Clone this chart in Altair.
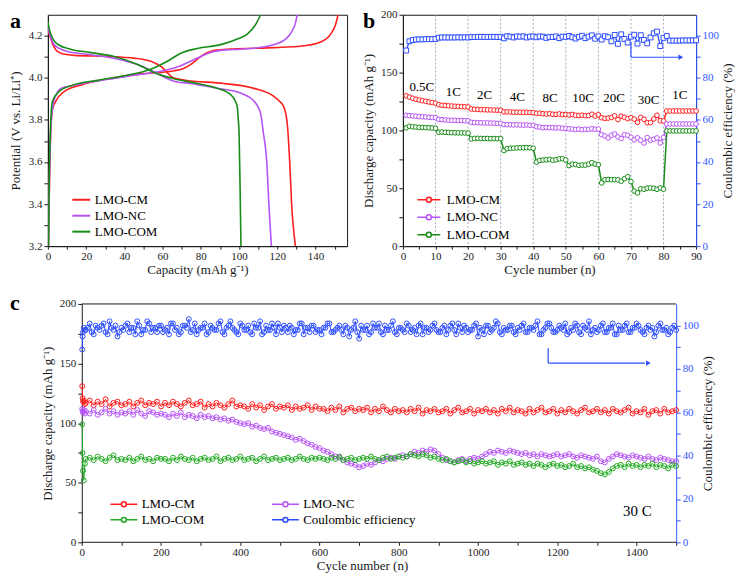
import altair as alt
import pandas as pd

FONT = "Liberation Serif"
RED = "#ff1e1e"
PURPLE = "#b653f5"
GREEN_A = "#178c17"
GREEN_C = "#22aa22"
BLUE = "#2c4cff"
AX_BLUE = "#2f55ff"
INK = "#1a1a1a"

SAMPLES = ["LMO-CM", "LMO-NC", "LMO-COM"]
CE_NAME = "Coulombic efficiency"

# ---------------- panel a : charge / discharge profiles ----------------
A_CM_CHG_CAP = [0.3, 0.8, 1.5, 2.4, 4.2, 8.5, 17, 34.6, 48.6, 62.5, 66, 71, 75, 79, 83, 88, 95, 109.5, 132, 142.6, 147.9, 150.5, 151.8]
A_CM_CHG_V = [3.2, 3.5, 3.75, 3.85, 3.89, 3.935, 3.965, 4.0, 4.019, 4.029, 4.034, 4.045, 4.065, 4.095, 4.118, 4.132, 4.137, 4.141, 4.15, 4.17, 4.208, 4.254, 4.3]
A_CM_DIS_CAP = [0, 1, 2.4, 4, 6.8, 13.8, 31.2, 45, 53.8, 57, 59.9, 62.5, 65, 71.2, 92, 107.8, 118.2, 121, 123.5, 125.2, 126.5, 127.5, 128.3, 129.5]
A_CM_DIS_V = [4.23, 4.2, 4.163, 4.135, 4.117, 4.107, 4.102, 4.094, 4.079, 4.066, 4.049, 4.025, 4.003, 3.99, 3.973, 3.95, 3.912, 3.89, 3.86, 3.783, 3.6, 3.4, 3.3, 3.2]
A_NC_CHG_CAP = [0.3, 0.8, 1.5, 2.5, 3.5, 6.8, 13.8, 27.7, 43.4, 60.8, 69.5, 75, 80, 86.9, 93, 100.8, 114.8, 120, 123.5, 126.5, 127.8, 129.5, 130.4]
A_NC_CHG_V = [3.2, 3.5, 3.75, 3.86, 3.9, 3.95, 3.965, 3.988, 4.01, 4.035, 4.058, 4.08, 4.102, 4.125, 4.133, 4.136, 4.15, 4.163, 4.178, 4.205, 4.224, 4.26, 4.3]
A_NC_DIS_CAP = [0, 1.2, 3.1, 6, 10.3, 22.5, 36.4, 48.6, 57.3, 66, 74.7, 88.7, 100.8, 105, 107.8, 110, 111.3, 112.7, 114.5, 115.6, 116.9]
A_NC_DIS_V = [4.24, 4.2, 4.16, 4.14, 4.125, 4.11, 4.09, 4.058, 4.02, 3.984, 3.973, 3.95, 3.928, 3.91, 3.89, 3.86, 3.83, 3.74, 3.6, 3.4, 3.2]
A_COM_CHG_CAP = [0.3, 0.7, 1.3, 2.4, 5.9, 12.9, 26, 39.9, 53.8, 62.5, 69.5, 78.2, 90.4, 99.1, 104.3, 108.7, 111.3]
A_COM_CHG_V = [3.2, 3.5, 3.75, 3.89, 3.935, 3.965, 3.988, 4.01, 4.041, 4.079, 4.117, 4.14, 4.158, 4.185, 4.208, 4.254, 4.3]
A_COM_DIS_CAP = [0, 0.8, 3.1, 6, 10.3, 22.5, 34.7, 46.9, 55.5, 66, 78.2, 88.7, 95.6, 98, 99.1, 99.6, 100, 100.5, 101]
A_COM_DIS_V = [4.27, 4.23, 4.178, 4.155, 4.14, 4.12, 4.102, 4.064, 4.026, 3.996, 3.973, 3.95, 3.92, 3.89, 3.86, 3.8, 3.74, 3.5, 3.2]
A_X_TICKS = [0, 10, 20, 30, 40, 50, 60, 70, 80, 90, 100, 110, 120, 130, 140, 150]
A_Y_TICKS = [3.2, 3.3, 3.4, 3.5, 3.6, 3.7, 3.8, 3.9, 4.0, 4.1, 4.2]

# ---------------- panel b : rate capability ----------------
B_CYCLES = list(range(1, 91))
B_CM = [129.9, 128.8, 127.8, 127.0, 126.3, 125.7, 125.2, 124.6, 124.1, 123.6,
        122.2, 121.8, 121.5, 121.3, 121.1, 120.9, 120.8, 120.6, 120.5, 120.3,
        118.6, 118.3, 118.1, 118.0, 117.9, 117.8, 117.7, 117.6, 117.5, 117.4,
        116.0, 116.1, 115.9, 115.8, 115.8, 115.7, 115.7, 115.6, 115.5, 115.4,
        114.8, 114.9, 114.4, 114.2, 114.5, 114.0, 113.9, 114.3, 113.8, 113.7,
        113.4, 113.8, 113.1, 112.9, 113.2, 112.7, 112.8, 114.0, 112.4, 113.6,
        111.0, 110.4, 110.7, 111.2, 112.6, 109.4, 112.3, 111.4, 110.2, 111.0,
        109.8, 107.0, 111.2, 109.6, 106.6, 106.8, 109.9, 113.1, 108.4, 108.2,
        116.8, 116.8, 116.8, 116.8, 116.8, 116.8, 116.8, 116.8, 116.8, 116.8]
B_NC = [113.1, 112.9, 112.6, 112.3, 112.0, 111.8, 111.6, 111.4, 111.2, 111.0,
        109.6, 109.3, 109.1, 108.9, 108.8, 108.7, 108.6, 108.5, 108.4, 108.3,
        107.0, 106.8, 106.7, 106.6, 106.5, 106.5, 106.4, 106.3, 106.2, 106.1,
        105.2, 105.0, 104.9, 104.8, 104.9, 104.7, 104.6, 104.8, 104.5, 104.4,
        103.2, 102.9, 102.4, 102.6, 102.3, 102.4, 102.1, 102.3, 101.9, 101.8,
        101.4, 101.2, 100.8, 101.1, 100.6, 101.0, 100.9, 101.5, 101.0, 101.2,
        96.3, 95.2, 93.5, 95.8, 96.9, 94.4, 93.0, 96.3, 95.8, 94.1,
        91.9, 93.6, 91.4, 89.1, 93.8, 91.6, 92.4, 93.5, 89.2, 94.0,
        105.6, 105.6, 105.6, 105.6, 105.6, 105.6, 105.6, 105.6, 105.6, 105.6]
B_COM = [102.2, 103.6, 103.2, 102.9, 102.7, 102.6, 102.4, 102.3, 102.1, 101.9,
         98.4, 98.6, 98.3, 98.2, 98.1, 98.0, 97.9, 97.9, 97.8, 97.7,
         92.6, 93.1, 93.2, 93.1, 93.0, 93.0, 92.9, 93.0, 92.9, 92.9,
         82.6, 84.3, 84.6, 84.7, 84.9, 85.0, 85.1, 85.2, 85.0, 84.6,
         72.6, 74.1, 74.4, 74.6, 75.0, 74.3, 74.6, 75.4, 75.6, 74.5,
         69.6, 70.9, 70.6, 69.8, 70.1, 70.0, 70.8, 72.1, 70.9, 70.4,
         54.6, 57.4, 57.6, 57.4, 57.5, 57.3, 56.1, 58.3, 60.0, 55.8,
         47.6, 46.0, 49.6, 49.2, 50.1, 50.3, 50.0, 49.1, 50.4, 49.2,
         99.6, 99.6, 99.6, 99.6, 99.6, 99.6, 99.6, 99.6, 99.6, 99.6]
B_CE = [93.0, 97.4, 98.0, 98.2, 98.3, 98.3, 98.4, 98.4, 98.4, 98.5,
        99.1, 99.2, 99.2, 99.2, 99.2, 99.2, 99.3, 99.2, 99.3, 99.2,
        99.4, 99.4, 99.5, 99.5, 99.5, 99.4, 99.5, 99.5, 99.4, 99.5,
        98.8, 99.8, 99.6, 99.2, 99.7, 99.6, 99.7, 99.2, 99.6, 99.7,
        99.3, 99.7, 99.6, 99.0, 99.5, 99.4, 99.7, 98.9, 99.6, 99.5,
        99.9, 99.3, 98.7, 99.5, 100.0, 98.9, 99.6, 100.2, 98.6, 99.7,
        98.2, 99.8, 99.3, 97.4, 100.4, 96.2, 100.7, 98.5, 96.8, 99.6,
        100.5, 96.3, 100.3, 98.0, 96.4, 99.2, 101.2, 102.0, 95.1, 99.0,
        99.9, 97.7, 97.7, 97.7, 97.7, 97.8, 97.8, 97.8, 97.8, 97.9]
B_RATE_LABELS = ["0.5C", "1C", "2C", "4C", "8C", "10C", "20C", "30C", "1C"]
B_RATE_X = [5.8, 15.5, 25.1, 35.1, 45.2, 55.3, 64.8, 75.4, 85.0]
B_RATE_Y = [137.8, 133.6, 130.8, 128.8, 128.0, 128.0, 128.0, 126.5, 130.8]
B_STEP_LINES = [10, 20, 30, 40, 50, 60, 70, 80]
B_X_TICKS = [0, 5, 10, 15, 20, 25, 30, 35, 40, 45, 50, 55, 60, 65, 70, 75, 80, 85, 90]
CAP_TICKS = [0, 25, 50, 75, 100, 125, 150, 175, 200]
CE_TICKS = [0, 10, 20, 30, 40, 50, 60, 70, 80, 90, 100]

# ---------------- panel c : long cycling at 30 C ----------------
C_CYCLES = [1, 2, 3, 5, 8] + list(range(10, 1501, 10))
C_CM = [131, 121, 118, 119, 116,
        117, 119, 115, 118, 116, 120, 114, 117, 118, 115,
        116, 118, 114, 117, 119, 115, 117, 116, 118, 114,
        117, 115, 118, 116, 114, 117, 119, 115, 116, 118,
        113, 116, 114, 117, 115, 113, 116, 119, 114, 115,
        114, 112, 116, 113, 115, 111, 114, 116, 112, 114,
        113, 115, 111, 114, 112, 113, 115, 111, 114, 112,
        112, 110, 113, 111, 114, 109, 112, 113, 110, 112,
        111, 113, 109, 112, 110, 114, 111, 109, 112, 110,
        111, 109, 112, 110, 113, 108, 111, 110, 112, 109,
        110, 112, 108, 111, 113, 109, 110, 112, 108, 111,
        110, 112, 109, 111, 108, 112, 110, 113, 109, 111,
        110, 108, 112, 109, 111, 113, 109, 110, 112, 108,
        111, 109, 112, 110, 108, 111, 113, 109, 110, 112,
        109, 111, 108, 112, 110, 109, 111, 113, 108, 110,
        109, 112, 107, 110, 111, 108, 112, 109, 110, 111]
C_NC = [112, 110, 109, 111, 108,
        110, 108, 111, 107, 109, 112, 108, 110, 107, 109,
        108, 110, 107, 111, 108, 106, 110, 109, 107, 108,
        107, 105, 108, 106, 109, 105, 107, 106, 104, 107,
        105, 106, 104, 105, 103, 104, 102, 103, 101, 100,
        99, 100, 97, 98, 96, 95, 96, 93, 92, 91,
        90, 89, 88, 86, 87, 85, 83, 82, 80, 79,
        77, 76, 74, 72, 71, 69, 67, 66, 65, 63,
        64, 66, 65, 67, 69, 68, 70, 71, 70, 72,
        73, 72, 74, 76, 75, 77, 76, 78, 77, 74,
        71, 69, 68, 67, 69, 70, 68, 70, 71, 70,
        72, 74, 76, 75, 77, 76, 75, 77, 76, 75,
        74, 75, 73, 74, 72, 74, 73, 72, 73, 74,
        72, 73, 74, 72, 71, 73, 72, 71, 70, 72,
        68, 67, 70, 72, 74, 73, 72, 71, 73, 72,
        71, 70, 72, 70, 69, 71, 70, 69, 68, 68]
C_COM = [99, 75, 60, 52, 66,
         70, 71, 69, 72, 70, 68, 71, 73, 69, 70,
         69, 71, 68, 70, 72, 69, 70, 68, 71, 70,
         70, 68, 71, 69, 72, 70, 69, 71, 68, 70,
         71, 69, 70, 72, 68, 70, 71, 69, 70, 72,
         69, 70, 71, 68, 70, 72, 69, 70, 71, 69,
         70, 71, 69, 70, 72, 70, 69, 71, 70, 71,
         70, 69, 71, 70, 72, 69, 70, 71, 69, 70,
         71, 70, 72, 70, 69, 71, 72, 70, 71, 72,
         71, 72, 74, 73, 72, 74, 73, 71, 72, 70,
         69, 70, 68, 67, 68, 69, 67, 68, 66, 67,
         68, 66, 67, 68, 65, 67, 66, 68, 65, 66,
         67, 65, 66, 64, 66, 65, 63, 65, 66, 64,
         65, 63, 64, 66, 63, 64, 62, 63, 61, 60,
         58, 57, 59, 62, 64, 65, 63, 66, 64, 65,
         63, 65, 64, 66, 63, 65, 64, 62, 65, 64]
C_CE = [89, 95, 97, 99, 98,
        98, 101, 96, 99, 100, 97, 102, 98, 95, 99,
        100, 97, 99, 102, 96, 98, 101, 99, 97, 100,
        98, 96, 101, 99, 97, 100, 103, 98, 96, 99,
        101, 97, 99, 98, 102, 96, 100, 99, 97, 101,
        98, 100, 96, 99, 102, 97, 98, 101, 96, 99,
        100, 97, 99, 98, 101, 96, 99, 100, 97, 98,
        99, 101, 97, 98, 100, 96, 99, 98, 102, 94,
        98, 100, 97, 99, 101, 96, 98, 100, 97, 99,
        98, 101, 97, 99, 100, 96, 99, 98, 101, 97,
        99, 96, 100, 98, 101, 97, 99, 98, 100, 95,
        98, 100, 97, 99, 101, 96, 98, 100, 97, 99,
        100, 97, 99, 98, 102, 96, 99, 101, 97, 98,
        99, 101, 97, 98, 100, 96, 99, 102, 98, 97,
        100, 97, 99, 101, 96, 98, 100, 97, 99, 101,
        98, 96, 100, 99, 97, 101, 98, 96, 99, 98]
# coulombic efficiency also read at the half-way cycles 15, 25, ..., 1495
C_CE_MID_CYCLES = list(range(15, 1500, 10))
C_CE_MID = [99, 97, 100, 98, 101, 96, 99, 100, 97,
            98, 101, 99, 96, 100, 98, 102, 97, 99, 100,
            97, 99, 101, 98, 96, 100, 99, 97, 101, 98,
            99, 96, 100, 98, 101, 97, 99, 102, 98, 96,
            100, 98, 97, 101, 99, 96, 100, 98, 99, 101,
            97, 99, 100, 96, 98, 101, 99, 97, 100, 98,
            96, 99, 101, 97, 99, 98, 100, 95, 99, 97,
            100, 98, 96, 101, 99, 97, 100, 98, 102, 96,
            99, 97, 100, 98, 96, 101, 99, 97, 100, 98,
            97, 100, 98, 101, 96, 99, 100, 97, 98, 101,
            99, 96, 100, 98, 102, 97, 99, 98, 100, 96,
            98, 101, 97, 99, 100, 96, 98, 101, 99, 97,
            100, 98, 96, 99, 101, 97, 100, 98, 96, 99,
            98, 101, 97, 99, 96, 100, 98, 101, 97, 99,
            100, 97, 99, 98, 95, 100, 98, 99, 97, 100]
C_X_TICKS = [0, 100, 200, 300, 400, 500, 600, 700, 800, 900, 1000, 1100, 1200, 1300, 1400, 1500]
# legend order (column-wise): CM, COM | NC, CE
C_LEGEND_ORDER = ["LMO-CM", "LMO-COM", "LMO-NC", CE_NAME]

# ---------------- layout sizes ----------------
A_W, A_H = 300, 232
B_W, B_H = 294, 232
C_W, C_H = 630, 239
C_XMIN = -85.6


def ax(**kw):
    base = dict(labelFont=FONT, titleFont=FONT, labelFontSize=11, titleFontSize=13,
                titleFontWeight="normal", labelColor=INK, titleColor=INK,
                domainColor=INK, tickColor=INK, tickSize=4, labelPadding=2,
                grid=False, labelOverlap=False, labelFlush=False, titlePadding=5)
    base.update(kw)
    return alt.Axis(**base)


def xax(**kw):
    return ax(tickSize=3, labelPadding=1, titlePadding=2, **kw)


LINE_CIRCLE = "M-{w},0L-0.5,0M0.5,0L{w},0M0.5,0A0.5,0.5,0,1,1,-0.5,0A0.5,0.5,0,1,1,0.5,0"


def letter(t, x, y):
    return alt.Chart(pd.DataFrame({"t": [t]})).mark_text(
        font=FONT, fontSize=22, fontWeight="bold", align="left", baseline="alphabetic", color="black"
    ).encode(x=alt.value(x), y=alt.value(y), text="t:N")


# ================= panel a =================
rows = []
for s, cap, v, seg in [
    ("LMO-CM", A_CM_CHG_CAP, A_CM_CHG_V, "c"), ("LMO-CM", A_CM_DIS_CAP, A_CM_DIS_V, "d"),
    ("LMO-NC", A_NC_CHG_CAP, A_NC_CHG_V, "c"), ("LMO-NC", A_NC_DIS_CAP, A_NC_DIS_V, "d"),
    ("LMO-COM", A_COM_CHG_CAP, A_COM_CHG_V, "c"), ("LMO-COM", A_COM_DIS_CAP, A_COM_DIS_V, "d"),
]:
    for i, (c, vv) in enumerate(zip(cap, v)):
        rows.append({"s": s, "seg": s + seg, "x": c, "y": vv, "i": i})
df_a = pd.DataFrame(rows)

a_lines = alt.Chart(df_a).mark_line(strokeWidth=1.6, interpolate="monotone", clip=True).encode(
    x=alt.X("x:Q", scale=alt.Scale(domain=[0, 156.5], nice=False, zero=False),
            axis=xax(values=A_X_TICKS, format="d", labelExpr="datum.value % 20 == 0 ? datum.label : ''",
                     title="Capacity (mAh g⁻¹)")),
    y=alt.Y("y:Q", scale=alt.Scale(domain=[3.2, 4.3], nice=False, zero=False),
            axis=ax(values=A_Y_TICKS, format=".1f",
                    labelExpr="round(datum.value * 10) % 2 == 0 ? datum.label : ''",
                    title="Potential (V vs. Li/Li⁺)", titlePadding=6)),
    color=alt.Color("s:N", scale=alt.Scale(domain=SAMPLES, range=[RED, PURPLE, GREEN_A]),
                    legend=alt.Legend(orient="none", legendX=27, legendY=A_H - 53, title=None,
                                      symbolType="M-1.8,0L1.8,0", symbolSize=100, symbolStrokeWidth=2,
                                      labelFont=FONT, labelFontSize=13, labelOffset=7,
                                      rowPadding=2, padding=0)),
    detail="seg:N",
    order="i:Q",
)
panel_a = alt.layer(a_lines, letter("a", -38, 13)).properties(width=A_W, height=A_H)

# ================= panel b =================
df_b = pd.DataFrame({
    "x": B_CYCLES * 3,
    "y": B_CM + B_NC + B_COM,
    "s": ["LMO-CM"] * 90 + ["LMO-NC"] * 90 + ["LMO-COM"] * 90,
})
df_bce = pd.DataFrame({"x": B_CYCLES, "y": B_CE})
df_brate = pd.DataFrame({"x": B_RATE_X, "y": B_RATE_Y, "t": B_RATE_LABELS})
df_bgrid = pd.DataFrame({"x": B_STEP_LINES})
df_barrow_v = pd.DataFrame({"x": [70], "y": [97.0], "y2": [89.8]})
df_barrow_h = pd.DataFrame({"x": [70], "x2": [84.6], "y": [89.8]})
df_barrow_t = pd.DataFrame({"x": [85.3], "y": [89.8]})

bx_scale = alt.Scale(domain=[0, 90], nice=False, zero=False)
bx_axis = xax(values=B_X_TICKS, format="d", labelExpr="datum.value % 10 == 0 ? datum.label : ''",
              title="Cycle number (n)")
cap_scale = alt.Scale(domain=[0, 200], nice=False, zero=False)
ce_scale = alt.Scale(domain=[0, 110], nice=False, zero=False)
cap_axis = ax(values=CAP_TICKS, format="d", labelExpr="datum.value % 50 == 0 ? datum.label : ''",
              title="Discharge capacity (mAh g⁻¹)")
ce_axis = ax(orient="right", values=CE_TICKS, format="d",
             labelExpr="datum.value % 20 == 0 ? datum.label : ''",
             title="Coulombic efficiency (%)", titleAngle=270, titleBaseline="top",
             labelColor=AX_BLUE, domainColor=AX_BLUE, tickColor=AX_BLUE, titlePadding=3)

BX = alt.X("x:Q", scale=bx_scale, axis=bx_axis)
b_color = alt.Color("s:N", scale=alt.Scale(domain=SAMPLES, range=[RED, PURPLE, GREEN_A]),
                    legend=alt.Legend(orient="none", legendX=19.5, legendY=B_H - 53, title=None,
                                      symbolType=LINE_CIRCLE.format(w=2.3), symbolSize=100,
                                      symbolStrokeWidth=1.5, labelFont=FONT, labelFontSize=13,
                                      labelOffset=11.5, rowPadding=3.5, padding=0))

b_grid = alt.Chart(df_bgrid).mark_rule(color="#8a9ab0", strokeDash=[2, 2], strokeWidth=0.8).encode(x=BX)
b_lines = alt.Chart(df_b).mark_line(strokeWidth=1.5).encode(
    x=BX, y=alt.Y("y:Q", scale=cap_scale, axis=cap_axis), color=b_color, detail="s:N")
b_points = alt.Chart(df_b).mark_point(filled=False, fill="white", size=22, strokeWidth=1, opacity=1).encode(
    x=BX, y=alt.Y("y:Q", scale=cap_scale, axis=None), color=b_color)
b_ce_line = alt.Chart(df_bce).mark_line(strokeWidth=1.3, color=BLUE).encode(
    x=BX, y=alt.Y("y:Q", scale=ce_scale, axis=ce_axis))
b_ce_pts = alt.Chart(df_bce).mark_point(shape="square", filled=False, fill="white", size=24,
                                        strokeWidth=1, color=BLUE, opacity=1).encode(
    x=BX, y=alt.Y("y:Q", scale=ce_scale, axis=None))
b_rate = alt.Chart(df_brate).mark_text(font=FONT, fontSize=13, color="black", baseline="middle").encode(
    x=BX, y=alt.Y("y:Q", scale=cap_scale, axis=None), text="t:N")
b_arr_v = alt.Chart(df_barrow_v).mark_rule(color=BLUE, strokeWidth=1.2).encode(
    x=BX, y=alt.Y("y:Q", scale=ce_scale, axis=None), y2="y2:Q")
b_arr_h = alt.Chart(df_barrow_h).mark_rule(color=BLUE, strokeWidth=1.2).encode(
    x=BX, x2="x2:Q", y=alt.Y("y:Q", scale=ce_scale, axis=None))
b_arr_t = alt.Chart(df_barrow_t).mark_point(shape="triangle-right", filled=True, size=30, color=BLUE, opacity=1).encode(
    x=BX, y=alt.Y("y:Q", scale=ce_scale, axis=None))

panel_b = alt.layer(
    b_grid, b_lines, b_points, b_ce_line, b_ce_pts, b_rate, b_arr_v, b_arr_h, b_arr_t,
    letter("b", -40, 13),
).resolve_scale(y="independent").properties(width=B_W, height=B_H)

# ================= panel c =================
n = len(C_CYCLES)
df_c = pd.DataFrame({
    "x": C_CYCLES * 3,
    "y": C_CM + C_NC + C_COM,
    "s": ["LMO-CM"] * n + ["LMO-NC"] * n + ["LMO-COM"] * n,
})
df_cce = pd.DataFrame({"x": C_CYCLES + C_CE_MID_CYCLES, "y": C_CE + C_CE_MID})
df_cce = df_cce.sort_values("x").reset_index(drop=True)
df_cce["s"] = CE_NAME
df_cframe = pd.DataFrame({"x": [0, 0], "x2": [1500, 1500], "y": [0, 200]})
df_carrow_v = pd.DataFrame({"x": [1177], "y": [89.6], "y2": [82.7]})
df_carrow_h = pd.DataFrame({"x": [1177], "x2": [1421], "y": [82.7]})
df_carrow_t = pd.DataFrame({"x": [1430], "y": [82.7]})
df_clabel = pd.DataFrame({"x": [1402], "y": [26], "t": ["30 C"]})

cx_scale = alt.Scale(domain=[C_XMIN, 1500], nice=False, zero=False)
cx_axis = xax(values=C_X_TICKS, format="d", domain=False,
              labelExpr="datum.value % 200 == 0 && datum.value < 1500 ? datum.label : ''",
              title="Cycle number (n)")
CX = alt.X("x:Q", scale=cx_scale, axis=cx_axis)
c_cap_axis = ax(values=CAP_TICKS, format="d", labelExpr="datum.value % 50 == 0 ? datum.label : ''",
                title="Discharge capacity (mAh g⁻¹)", offset=-34)
c_color = alt.Color("s:N", scale=alt.Scale(domain=C_LEGEND_ORDER,
                                           range=[RED, GREEN_C, PURPLE, BLUE]),
                    legend=alt.Legend(orient="none", legendX=69.7, legendY=C_H - 45, title=None,
                                      columns=2, columnPadding=64,
                                      symbolType=LINE_CIRCLE.format(w=2.7), symbolSize=100,
                                      symbolStrokeWidth=1.5, labelFont=FONT, labelFontSize=13,
                                      labelOffset=11.3, rowPadding=2, padding=0))

c_frame = alt.Chart(df_cframe).mark_rule(color=INK, strokeWidth=1).encode(
    x=CX, x2="x2:Q", y=alt.Y("y:Q", scale=cap_scale, axis=None))
c_lines = alt.Chart(df_c).mark_line(strokeWidth=1).encode(
    x=CX, y=alt.Y("y:Q", scale=cap_scale, axis=c_cap_axis), color=c_color, detail="s:N")
c_points = alt.Chart(df_c).mark_point(filled=False, size=24, strokeWidth=1, opacity=1).encode(
    x=CX, y=alt.Y("y:Q", scale=cap_scale, axis=None), color=c_color)
c_ce_line = alt.Chart(df_cce).mark_line(strokeWidth=1).encode(
    x=CX, y=alt.Y("y:Q", scale=ce_scale, axis=ce_axis), color=c_color)
c_ce_pts = alt.Chart(df_cce).mark_point(filled=False, size=24, strokeWidth=1, opacity=1).encode(
    x=CX, y=alt.Y("y:Q", scale=ce_scale, axis=None), color=c_color)
c_arr_v = alt.Chart(df_carrow_v).mark_rule(color=BLUE, strokeWidth=1.2).encode(
    x=CX, y=alt.Y("y:Q", scale=ce_scale, axis=None), y2="y2:Q")
c_arr_h = alt.Chart(df_carrow_h).mark_rule(color=BLUE, strokeWidth=1.2).encode(
    x=CX, x2="x2:Q", y=alt.Y("y:Q", scale=ce_scale, axis=None))
c_arr_t = alt.Chart(df_carrow_t).mark_point(shape="triangle-right", filled=True, size=30, color=BLUE, opacity=1).encode(
    x=CX, y=alt.Y("y:Q", scale=ce_scale, axis=None))
c_text = alt.Chart(df_clabel).mark_text(font=FONT, fontSize=15, color="black", baseline="middle").encode(
    x=CX, y=alt.Y("y:Q", scale=cap_scale, axis=None), text="t:N")

panel_c = alt.layer(
    c_frame, c_lines, c_points, c_ce_line, c_ce_pts, c_arr_v, c_arr_h, c_arr_t, c_text,
    letter("c", -38, 6),
).resolve_scale(y="independent").properties(
    width=C_W, height=C_H, view=alt.ViewBackground(stroke="transparent"))

top = alt.hconcat(panel_a, panel_b, spacing=14).resolve_scale(color="independent").resolve_legend(color="independent")
chart = alt.vconcat(top, panel_c, spacing=14).resolve_scale(color="independent").resolve_legend(
    color="independent").properties(
    padding={"left": 0, "top": -1, "right": 0, "bottom": 0}
).configure_view(stroke=INK, strokeWidth=1)

chart.save("out.html", embed_options={"renderer": "svg", "actions": False})
